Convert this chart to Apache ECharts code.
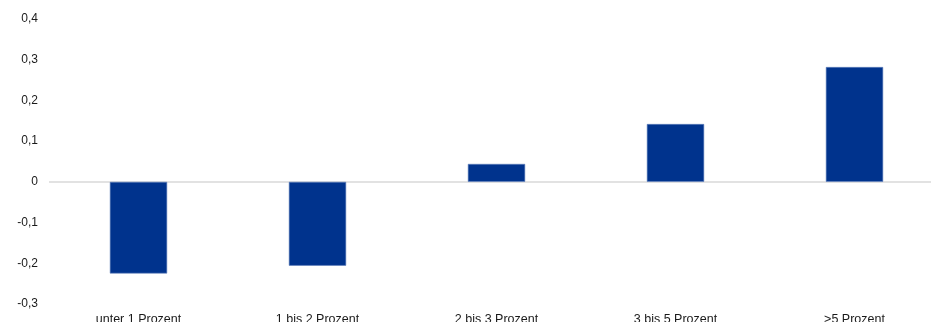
<!DOCTYPE html>
<html>
<head>
<meta charset="utf-8">
<script src="https://cdn.jsdelivr.net/npm/echarts@6/dist/echarts.min.js"></script>
<style>
  html, body { margin: 0; padding: 0; background: #fff; }
  #chart { width: 931px; height: 322px; }
</style>
</head>
<body>
<div id="chart"></div>
<script>
// Categories and values
const categories = ['unter 1 Prozent', '1 bis 2 Prozent', '2 bis 3 Prozent', '3 bis 5 Prozent', '>5 Prozent'];
const values = [-0.225, -0.206, 0.044, 0.142, 0.282];
const yMin = -0.3;
const yMax = 0.4;
const yStep = 0.1;

const chart = echarts.init(document.getElementById('chart'), null, { renderer: 'canvas' });

chart.setOption({
  animation: false,
  backgroundColor: '#ffffff',
  grid: { left: 49, right: -13, top: 19, bottom: 18, containLabel: false, outerBoundsMode: 'none' },
  xAxis: {
    type: 'category',
    data: categories,
    axisLine: { show: false },
    axisTick: { show: false },
    axisLabel: {
      color: '#1a1a1a',
      fontFamily: 'Liberation Sans, Arial, sans-serif',
      fontSize: 12.5,
      margin: 9,
      interval: 0
    },
    splitLine: { show: false }
  },
  yAxis: {
    type: 'value',
    min: yMin,
    max: yMax,
    interval: yStep,
    axisLine: { show: false },
    axisTick: { show: false },
    splitLine: { show: false },
    axisLabel: {
      color: '#1a1a1a',
      fontFamily: 'Liberation Sans, Arial, sans-serif',
      fontSize: 12,
      margin: 11,
      formatter: v => {
        const r = Math.round(v * 10) / 10;
        return r === 0 ? '0' : r.toFixed(1).replace('.', ',');
      }
    }
  },
  series: [{
    type: 'bar',
    data: values,
    barWidth: '32%',
    itemStyle: { color: '#00338D', borderColor: '#5f7fbc', borderWidth: 0.6 },
    markLine: {
      silent: true,
      symbol: 'none',
      label: { show: false },
      lineStyle: { color: '#d9d9d9', width: 1.5, type: 'solid' },
      data: [{ yAxis: 0 }],
      z: 1
    },
    z: 2
  }]
});
</script>
</body>
</html>
